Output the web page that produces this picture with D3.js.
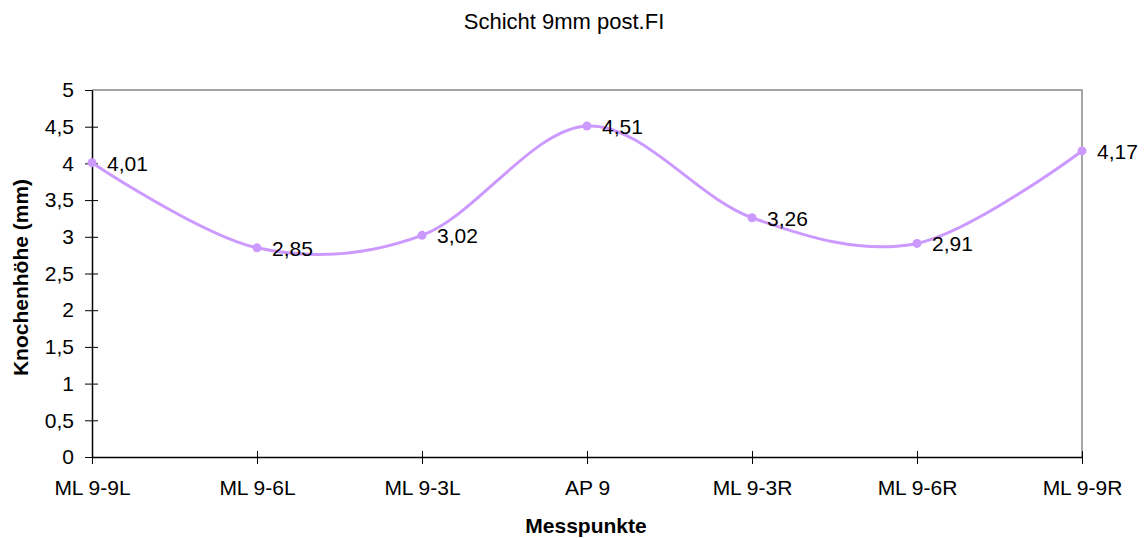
<!DOCTYPE html>
<html>
<head>
<meta charset="utf-8">
<script src="https://cdn.jsdelivr.net/npm/d3@7"></script>
<style>
  body { margin: 0; background: #fff; }
  text { font-family: "Liberation Sans", Arial, sans-serif; fill: #000; }
</style>
</head>
<body>
<svg id="chart"></svg>
<script>
const categories = ["ML 9-9L", "ML 9-6L", "ML 9-3L", "AP 9", "ML 9-3R", "ML 9-6R", "ML 9-9R"];
const values = [4.01, 2.85, 3.02, 4.51, 3.26, 2.91, 4.17];
const yTicks = [0, 0.5, 1, 1.5, 2, 2.5, 3, 3.5, 4, 4.5, 5];

const width = 1146, height = 538;
const plot = { left: 92, right: 1082, top: 90, bottom: 457 };
const fmt = v => String(v).replace(".", ",");

const svg = d3.select("#chart").attr("width", width).attr("height", height);

const x = d3.scalePoint().domain(categories).range([plot.left, plot.right]);
const y = d3.scaleLinear().domain([0, 5]).range([plot.bottom, plot.top]);

// grey frame top/right
svg.append("path")
  .attr("d", `M${plot.left},${plot.top}H${plot.right}V${plot.bottom}`)
  .attr("fill", "none").attr("stroke", "#888").attr("stroke-width", 1.5);

// y axis
const yAxis = svg.append("g")
  .attr("transform", `translate(${plot.left},0)`)
  .call(d3.axisLeft(y).tickValues(yTicks).tickSize(7).tickPadding(11).tickSizeOuter(0).tickFormat(fmt));
yAxis.select(".domain").attr("stroke", "#000").attr("stroke-width", 1.5);
yAxis.selectAll(".tick line").attr("stroke", "#000").attr("x2", -7).attr("x1", 6);
yAxis.selectAll(".tick").filter(d => d === 5).select("line").attr("x1", 0);
yAxis.selectAll("text").style("font-size", "21px").attr("fill", "#000");

// x axis
const xAxis = svg.append("g")
  .attr("transform", `translate(0,${plot.bottom})`)
  .call(d3.axisBottom(x).tickSize(7).tickPadding(16).tickSizeOuter(0));
xAxis.select(".domain").attr("stroke", "#000").attr("stroke-width", 1.5);
xAxis.selectAll(".tick line").attr("stroke", "#000").attr("y1", -6);
xAxis.selectAll("text").style("font-size", "21px").attr("fill", "#000");

// line
const line = d3.line()
  .x((d, i) => x(categories[i]))
  .y(d => y(d))
  .curve(d3.curveCardinal.tension(0));

svg.append("path")
  .datum(values)
  .attr("d", line)
  .attr("fill", "none")
  .attr("stroke", "#CC99FF")
  .attr("stroke-width", 3);

svg.selectAll(".pt")
  .data(values)
  .join("circle")
  .attr("class", "pt")
  .attr("cx", (d, i) => x(categories[i]))
  .attr("cy", d => y(d))
  .attr("r", 4.5)
  .attr("fill", "#CC99FF");

svg.selectAll(".lbl")
  .data(values)
  .join("text")
  .attr("class", "lbl")
  .attr("x", (d, i) => x(categories[i]) + 15)
  .attr("y", d => y(d) + 8)
  .style("font-size", "21px")
  .text(fmt);

// titles
svg.append("text")
  .attr("x", 564).attr("y", 29)
  .attr("text-anchor", "middle")
  .style("font-size", "22px")
  .text("Schicht 9mm post.FI");

svg.append("text")
  .attr("x", 586).attr("y", 533)
  .attr("text-anchor", "middle")
  .style("font-size", "21px").style("font-weight", "bold")
  .text("Messpunkte");

svg.append("text")
  .attr("transform", `translate(28,${(plot.top + plot.bottom) / 2 + 4}) rotate(-90)`)
  .attr("text-anchor", "middle")
  .style("font-size", "21px").style("font-weight", "bold")
  .text("Knochenhöhe (mm)");
</script>
</body>
</html>
